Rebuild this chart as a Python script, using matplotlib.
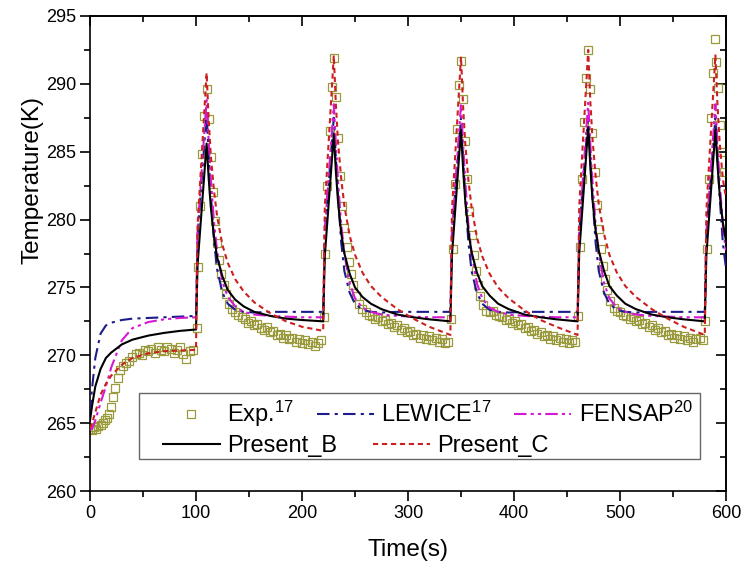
import matplotlib
matplotlib.use("Agg")
import matplotlib.pyplot as plt
from matplotlib.ticker import MultipleLocator
from matplotlib.patches import Rectangle

plt.rcParams['font.family'] = ['Liberation Sans', 'DejaVu Sans']
plt.rcParams['mathtext.fontset'] = 'custom'
plt.rcParams['mathtext.rm'] = 'Liberation Sans'
plt.rcParams['mathtext.it'] = 'Liberation Sans'
plt.rcParams['mathtext.bf'] = 'Liberation Sans'

# ---------------- data ----------------
exp_t = [0, 2, 4, 6, 8, 10, 12, 14, 16, 18, 20, 22, 24, 26, 28, 31, 34, 37, 40, 43,
         46, 49, 52, 55, 58, 61, 64, 67, 70, 73, 76, 79, 82, 85, 88, 91, 94, 97,
         # cycle 1
         100.5, 102, 104, 106, 108, 110, 112, 114, 116, 118, 120, 122, 124, 126, 128,
         131, 134, 137, 140, 143, 146, 149, 152, 155, 158, 161, 164, 167, 170, 173,
         176, 179, 182, 185, 188, 191, 194, 197, 200, 203, 206, 209, 212, 215, 218,
         # cycle 2
         220.5, 222, 224, 226, 228, 230, 232, 234, 236, 238, 240, 242, 244, 246, 248,
         251, 254, 257, 260, 263, 266, 269, 272, 275, 278, 281, 284, 287, 290, 293,
         296, 299, 302, 305, 308, 311, 314, 317, 320, 323, 326, 329, 332, 335, 338,
         # cycle 3
         340.5, 342, 344, 346, 348, 350, 352, 354, 356, 358, 360, 362, 364, 366, 368,
         371, 374, 377, 380, 383, 386, 389, 392, 395, 398, 401, 404, 407, 410, 413,
         416, 419, 422, 425, 428, 431, 434, 437, 440, 443, 446, 449, 452, 455, 458,
         # cycle 4
         460.5, 462, 464, 466, 468, 470, 472, 474, 476, 478, 480, 482, 484, 486, 488,
         491, 494, 497, 500, 503, 506, 509, 512, 515, 518, 521, 524, 527, 530, 533,
         536, 539, 542, 545, 548, 551, 554, 557, 560, 563, 566, 569, 572, 575, 578,
         # cycle 5
         580.5, 582, 584, 586, 588, 590, 591, 592, 594, 596, 598]
exp_T = [264.6, 264.5, 264.7, 264.6, 264.8, 264.9, 265.0, 265.2, 265.4, 265.7, 266.2,
         266.9, 267.6, 268.3, 268.9, 269.2, 269.4, 269.6, 269.9, 270.1, 270.2, 270.0,
         270.4, 270.3, 270.5, 270.2, 270.6, 270.4, 270.3, 270.6, 270.5, 270.2, 270.4,
         270.6, 270.1, 269.7, 270.3, 270.4,
         272.0, 276.5, 281.0, 284.8, 287.6, 289.6, 287.4, 284.6, 282.0, 279.9, 278.3,
         277.0, 276.0, 275.2, 274.5, 273.8, 273.4, 273.2, 273.0, 272.8, 272.7, 272.4,
         272.5, 272.2, 272.3, 272.0, 271.9, 272.1, 271.7, 271.8, 271.5, 271.6, 271.3,
         271.5, 271.2, 271.3, 271.0, 271.2, 270.9, 271.1, 270.8, 271.0, 270.7, 270.9,
         271.1,
         272.8, 277.5, 282.5, 286.5, 289.8, 291.9, 289.0, 286.0, 283.2, 281.0, 279.4,
         278.0, 276.9, 276.0, 275.2, 274.4, 273.8, 273.4, 273.2, 273.0, 272.9, 272.7,
         272.8, 272.5, 272.6, 272.3, 272.4, 272.1, 272.2, 271.9, 272.0, 271.7, 271.8,
         271.5, 271.6, 271.3, 271.5, 271.2, 271.4, 271.1, 271.3, 271.0, 271.2, 270.9,
         271.0,
         272.7, 277.8, 282.6, 286.7, 289.9, 291.7, 288.9, 285.8, 283.0, 280.6, 278.9,
         277.4, 276.2, 275.2, 274.4, 273.7, 273.3, 273.2, 273.3, 273.0, 272.9, 272.8,
         272.6, 272.7, 272.4, 272.5, 272.2, 272.3, 272.0, 272.1, 271.8, 271.9, 271.6,
         271.7, 271.4, 271.5, 271.2, 271.4, 271.1, 271.3, 271.0, 271.2, 270.9, 271.1,
         271.0,
         272.9, 278.0, 283.0, 287.2, 290.4, 292.5, 289.6, 286.4, 283.5, 281.1, 279.3,
         277.8, 276.6, 275.6, 274.8, 274.0, 273.5, 273.3, 273.2, 273.0, 272.9, 272.7,
         272.8, 272.5, 272.6, 272.3, 272.4, 272.1, 272.2, 271.9, 272.0, 271.7, 271.8,
         271.5, 271.6, 271.3, 271.5, 271.2, 271.4, 271.1, 271.3, 271.0, 271.2, 271.3,
         271.1,
         272.5, 277.8, 283.0, 287.5, 290.8, 293.3, 291.6, 289.7, 287.0, 285.0, 283.5]

model_t = [0, 2, 5, 10, 15, 20, 30, 40, 55, 70, 85, 100,
           101.5, 110, 112, 114, 117, 120, 125, 130, 137, 145, 155, 170, 185, 200, 220,
           221.5, 230, 232, 234, 237, 240, 245, 250, 257, 265, 275, 290, 305, 320, 340,
           341.5, 350, 352, 354, 357, 360, 365, 370, 377, 385, 395, 410, 425, 440, 460,
           461.5, 470, 472, 474, 477, 480, 485, 490, 497, 505, 515, 530, 545, 560, 580,
           581.5, 590, 592, 594, 597, 600]

lewice_T = [265.8, 267.6, 269.8, 271.6, 272.2, 272.4, 272.6, 272.7, 272.75, 272.8, 272.85, 272.9,
            278.8, 287.8, 284.7, 281.9, 278.4, 276.3, 274.6, 273.8, 273.35, 273.2, 273.15, 273.2, 273.2, 273.2, 273.2,
            279.0, 287.5, 284.5, 281.7, 278.3, 276.2, 274.6, 273.8, 273.35, 273.2, 273.15, 273.2, 273.2, 273.2, 273.2,
            279.0, 287.5, 284.5, 281.7, 278.3, 276.2, 274.6, 273.8, 273.35, 273.2, 273.15, 273.2, 273.2, 273.2, 273.2,
            279.0, 287.6, 284.6, 281.7, 278.3, 276.2, 274.6, 273.8, 273.35, 273.2, 273.15, 273.2, 273.2, 273.2, 273.2,
            279.0, 287.5, 284.5, 281.7, 278.3, 276.4]

fensap_T = [264.5, 264.6, 265.2, 266.5, 267.7, 269.1, 271.1, 272.0, 272.45, 272.65, 272.75, 272.8,
            279.2, 288.8, 285.7, 283.0, 279.8, 277.6, 275.4, 274.3, 273.6, 273.2, 273.0, 272.9, 272.85, 272.8, 272.8,
            279.1, 288.5, 285.5, 282.8, 279.6, 277.5, 275.3, 274.2, 273.5, 273.2, 273.0, 272.9, 272.85, 272.8, 272.8,
            279.1, 288.5, 285.5, 282.8, 279.6, 277.5, 275.3, 274.2, 273.5, 273.2, 273.0, 272.9, 272.85, 272.8, 272.8,
            279.1, 288.6, 285.6, 282.8, 279.6, 277.5, 275.3, 274.2, 273.5, 273.2, 273.0, 272.9, 272.85, 272.8, 272.8,
            279.1, 288.5, 285.5, 282.8, 279.6, 277.6]

presB_T = [265.2, 266.3, 267.7, 269.0, 269.8, 270.2, 270.8, 271.15, 271.45, 271.65, 271.8, 271.9,
           276.7, 285.6, 283.0, 280.9, 278.7, 277.2, 275.8, 274.8, 274.1, 273.6, 273.2, 272.9, 272.7, 272.6, 272.5,
           277.3, 286.3, 283.5, 281.3, 279.0, 277.5, 276.0, 275.0, 274.3, 273.8, 273.4, 273.0, 272.8, 272.65, 272.5,
           277.4, 286.6, 283.7, 281.4, 279.1, 277.6, 276.1, 275.1, 274.4, 273.8, 273.4, 273.0, 272.8, 272.65, 272.5,
           277.5, 286.8, 283.9, 281.5, 279.2, 277.7, 276.2, 275.1, 274.4, 273.8, 273.4, 273.0, 272.8, 272.65, 272.5,
           277.4, 286.6, 284.0, 281.9, 279.8, 278.4]

presC_T = [264.6, 265.0, 265.8, 267.1, 267.9, 268.5, 269.3, 269.8, 270.15, 270.3, 270.35, 270.4,
           279.6, 290.8, 287.3, 284.7, 282.1, 280.2, 278.1, 276.8, 275.6, 274.7, 273.9, 273.1, 272.5, 272.1, 271.8,
           280.9, 292.1, 288.4, 285.7, 283.0, 281.0, 278.8, 277.4, 276.1, 275.1, 274.3, 273.4, 272.7, 272.1, 271.5,
           280.7, 292.0, 288.3, 285.6, 282.9, 280.9, 278.7, 277.3, 276.0, 275.0, 274.2, 273.3, 272.6, 272.1, 271.5,
           280.9, 292.5, 288.7, 286.0, 283.2, 281.1, 278.9, 277.4, 276.1, 275.1, 274.3, 273.4, 272.7, 272.1, 271.5,
           280.7, 292.1, 288.4, 285.7, 283.0, 281.6]

x_ticks = [0, 100, 200, 300, 400, 500, 600]
y_ticks = [260, 265, 270, 275, 280, 285, 290, 295]

# ---------------- figure ----------------
fig = plt.figure(figsize=(7.44, 5.68), dpi=100)
ax = fig.add_axes([90 / 744, 1 - 491 / 568, 636 / 744, 475 / 568])

h_exp, = ax.plot(exp_t, exp_T, linestyle='none', marker='s', markersize=5.5,
                 markerfacecolor='none', markeredgecolor='#9a9a3c', markeredgewidth=0.9,
                 zorder=2)
h_lew, = ax.plot(model_t, lewice_T, color='#1c1c8a', lw=1.5,
                 linestyle=(0, (6, 2.5, 1.5, 2.5)), zorder=3)
h_fen, = ax.plot(model_t, fensap_T, color='#d21ad2', lw=1.5,
                 linestyle=(0, (6, 2, 1.5, 2, 1.5, 2)), zorder=3)
h_b, = ax.plot(model_t, presB_T, color='black', lw=1.5, linestyle='-', zorder=4)
h_c, = ax.plot(model_t, presC_T, color='#cc2020', lw=1.5, linestyle=(0, (2.5, 1.8)),
               zorder=5)

ax.set_xlim(0, 600)
ax.set_ylim(260, 295)
ax.set_xticks(x_ticks)
ax.set_yticks(y_ticks)
ax.xaxis.set_minor_locator(MultipleLocator(50))
ax.yaxis.set_minor_locator(MultipleLocator(2.5))
ax.tick_params(which='major', direction='out', length=7, width=1.2, labelsize=13, pad=3)
ax.tick_params(which='minor', direction='out', length=4, width=1.2)
ax.tick_params(top=False, right=False, which='both')
for s in ax.spines.values():
    s.set_linewidth(1.2)

secx = ax.secondary_xaxis('top')
secx.set_xticks(x_ticks)
secx.xaxis.set_minor_locator(MultipleLocator(50))
secx.tick_params(which='major', direction='in', length=7, width=1.2, labeltop=False)
secx.tick_params(which='minor', direction='in', length=4, width=1.2)
secx.spines['top'].set_linewidth(1.2)

secy = ax.secondary_yaxis('right')
secy.set_yticks(y_ticks)
secy.yaxis.set_minor_locator(MultipleLocator(2.5))
secy.tick_params(which='major', direction='in', length=7, width=1.2, labelright=False)
secy.tick_params(which='minor', direction='in', length=4, width=1.2)
secy.spines['right'].set_linewidth(1.2)

ax.set_xlabel('Time(s)', fontsize=17.5, labelpad=12)
ax.set_ylabel('Temperature(K)', fontsize=17.5)
ax.yaxis.set_label_coords(-(90 - 43) / 636, (491 - 180) / 475)

# ---------------- legend (two free rows inside one frame) ----------------
frame = Rectangle((49 / 636, 32 / 475), 561 / 636, 66 / 475, transform=ax.transAxes,
                  facecolor='white', edgecolor='#666666', lw=1.0, zorder=8)
ax.add_patch(frame)

leg_kw = dict(frameon=False, fontsize=17, handlelength=2.4, handletextpad=0.33,
              borderpad=0, borderaxespad=0, loc='center left')
leg1 = ax.legend([h_exp, h_lew, h_fen],
                 [r'Exp.$^{17}$', r'LEWICE$^{17}$', r'FENSAP$^{20}$'],
                 ncol=3, columnspacing=0.95,
                 bbox_to_anchor=(73 / 636, (491 - 414) / 475), **leg_kw)
leg1.set_zorder(9)
ax.add_artist(leg1)
leg2 = ax.legend([h_b, h_c], ['Present_B', 'Present_C'],
                 ncol=2, columnspacing=1.5,
                 bbox_to_anchor=(73 / 636, (491 - 446) / 475), **leg_kw)
leg2.set_zorder(9)

fig.savefig('out.png', dpi=100)
